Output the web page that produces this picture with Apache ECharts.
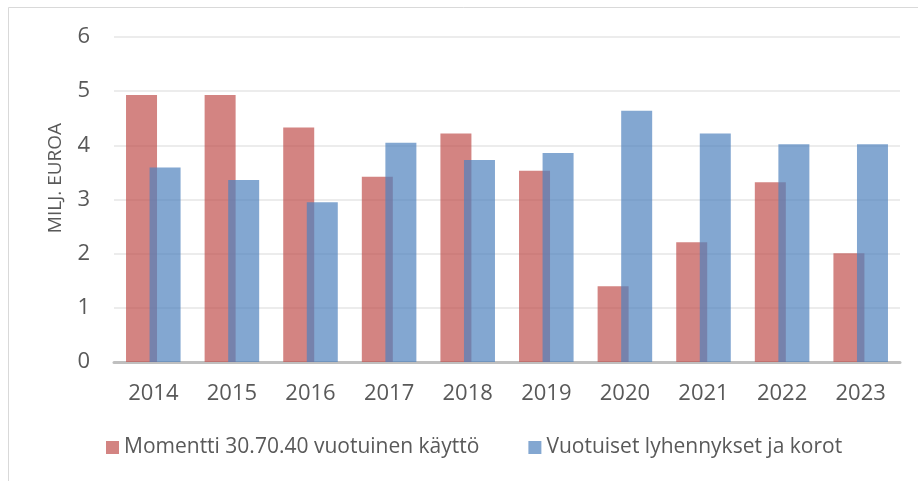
<!DOCTYPE html>
<html>
<head>
<meta charset="utf-8">
<script src="https://cdn.jsdelivr.net/npm/echarts@6/dist/echarts.min.js"></script>
<style>
  html, body { margin: 0; padding: 0; background: #fff; }
  #chart { width: 918px; height: 481px; }
</style>
</head>
<body>
<div id="chart"></div>
<script>
const years = ["2014", "2015", "2016", "2017", "2018", "2019", "2020", "2021", "2022", "2023"];
const momentti = [4.93, 4.93, 4.33, 3.42, 4.22, 3.53, 1.40, 2.21, 3.32, 2.01];
const lyhennykset = [3.59, 3.36, 2.95, 4.05, 3.73, 3.86, 4.64, 4.22, 4.02, 4.02];
const yTicks = [0, 1, 2, 3, 4, 5, 6];

const font = "Open Sans";
const textColor = "#595959";

const chart = echarts.init(document.getElementById("chart"), null, { renderer: "canvas" });

chart.setOption({
    animation: false,
    backgroundColor: "#fff",
    textStyle: { fontFamily: font },
    graphic: [
        {
            // chart area border, only top and left edges are visible
            type: "rect",
            shape: { x: 8.5, y: 7.5, width: 1000, height: 1000 },
            style: { fill: "none", stroke: "#d9d9d9", lineWidth: 1 },
            silent: true
        },
        {
            // y axis title sits a bit above the plot middle in the original
            type: "text",
            x: 56,
            y: 178,
            rotation: Math.PI / 2,
            style: {
                text: "MILJ. EUROA",
                fill: textColor,
                fontFamily: font,
                fontSize: 19,
                align: "center",
                verticalAlign: "middle"
            },
            silent: true
        }
    ],
    grid: { left: 114, right: 18, top: 37, bottom: 119 },
    legend: {
        left: 101,
        top: 432,
        itemWidth: 13,
        itemHeight: 13,
        itemGap: 49,
        icon: "rect",
        textStyle: { fontFamily: font, fontSize: 21, color: textColor },
        data: ["Momentti 30.70.40 vuotuinen käyttö", "Vuotuiset lyhennykset ja korot"]
    },
    xAxis: {
        type: "category",
        data: years,
        axisLine: { lineStyle: { color: "#bfbfbf", width: 3 } },
        axisTick: { show: false },
        axisLabel: { color: textColor, fontSize: 22, margin: 21, fontFamily: font }
    },
    yAxis: {
        type: "value",
        min: yTicks[0],
        max: yTicks[yTicks.length - 1],
        interval: 1,
        axisLine: { show: false },
        axisTick: { show: false },
        axisLabel: { color: textColor, fontSize: 22, margin: 24, fontFamily: font },
        splitLine: { lineStyle: { color: "#ececec", width: 2 } }
    },
    series: [
        {
            name: "Momentti 30.70.40 vuotuinen käyttö",
            type: "bar",
            data: momentti,
            barWidth: 31,
            barGap: "-24%",
            itemStyle: { color: "#c0504d", opacity: 0.7 }
        },
        {
            name: "Vuotuiset lyhennykset ja korot",
            type: "bar",
            data: lyhennykset,
            barWidth: 31,
            itemStyle: { color: "#4f81bd", opacity: 0.7 }
        }
    ]
});
</script>
</body>
</html>
